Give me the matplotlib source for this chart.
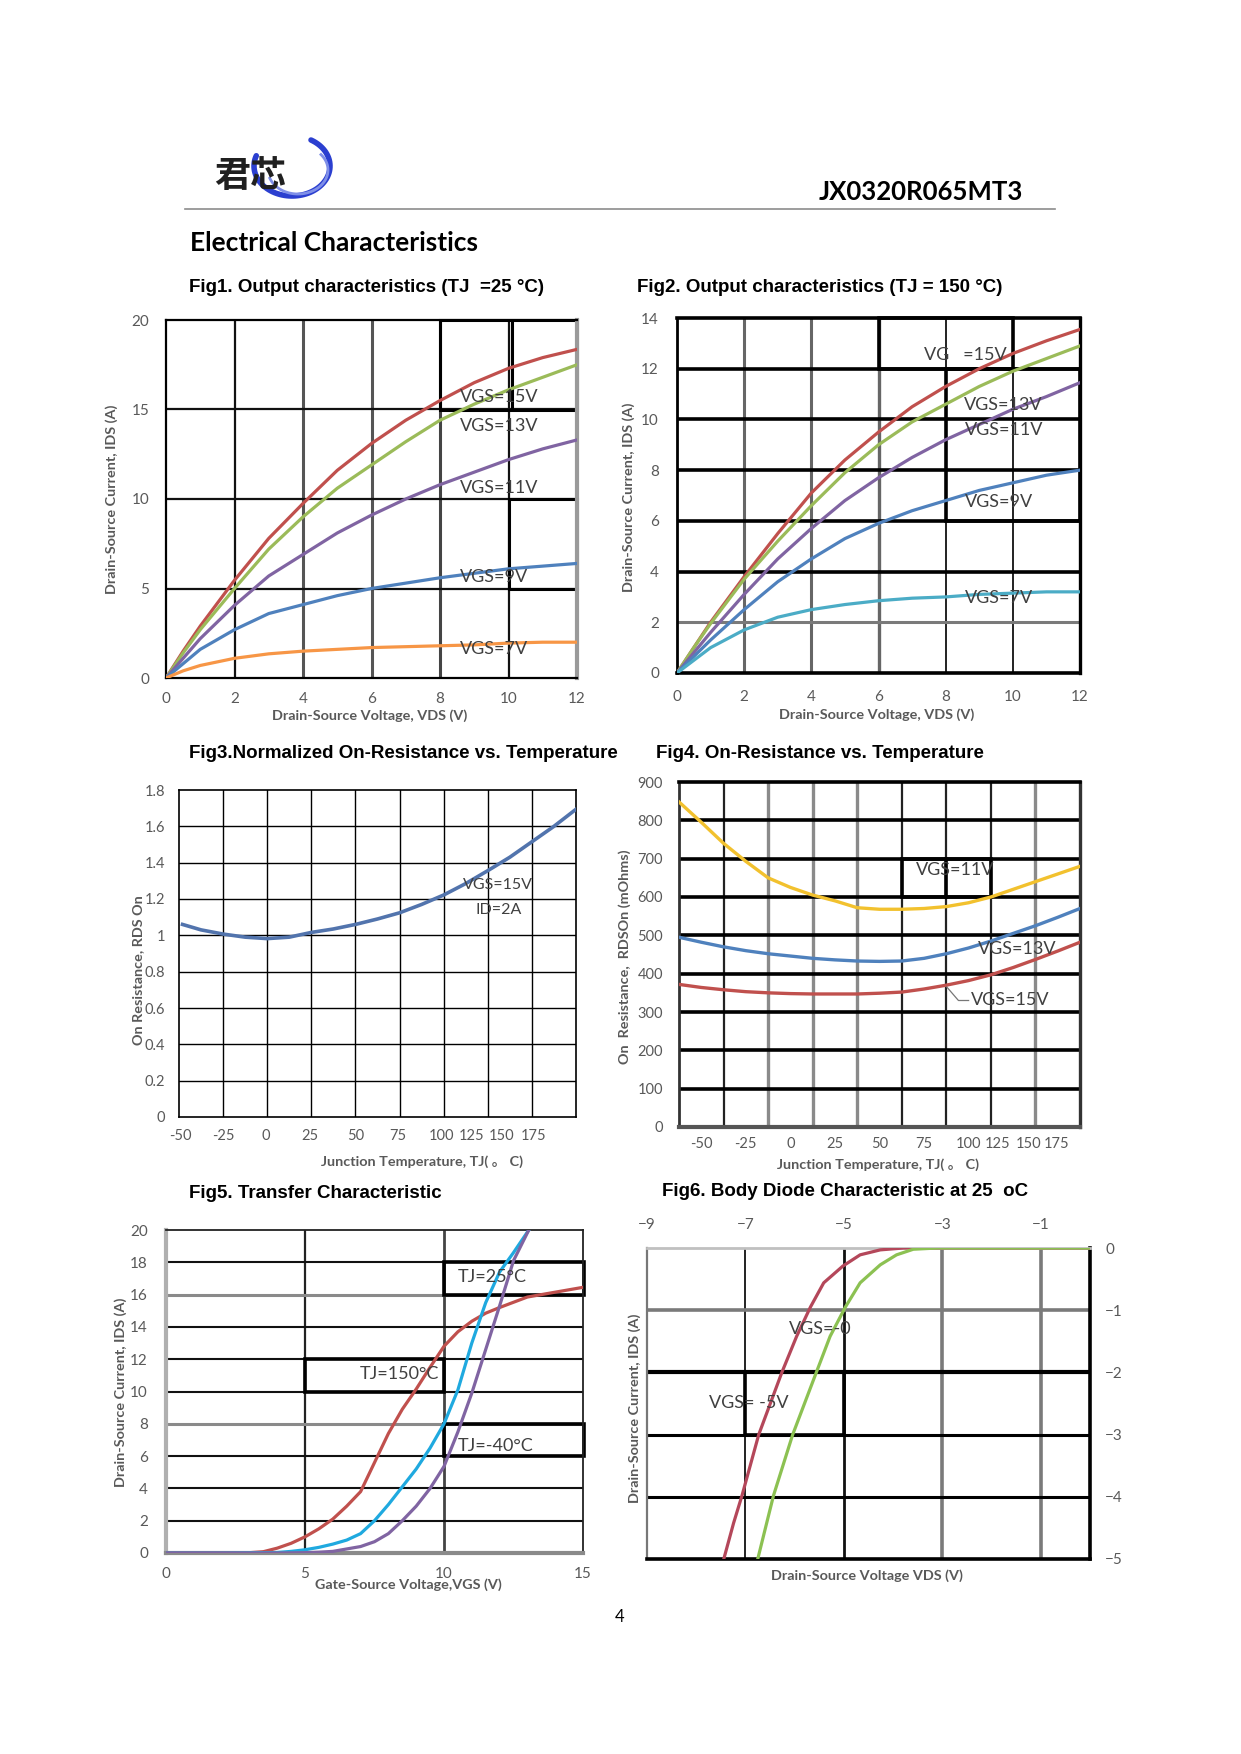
import numpy as np
import matplotlib
matplotlib.use("Agg")
import matplotlib.pyplot as plt
from matplotlib.patches import Rectangle
from matplotlib import font_manager as fm

# ---------------- data ----------------
# Fig1 output characteristics Tj=25C
f1_vds = [0, 0.5, 1, 2, 3, 4, 5, 6, 7, 8, 9, 10, 11, 12]
f1_vgs15 = [0, 1.5, 2.9, 5.46, 7.8, 9.75, 11.6, 13.1, 14.4, 15.5, 16.5, 17.3, 17.9, 18.36]
f1_vgs13 = [0, 1.4, 2.7, 5.0, 7.2, 9.0, 10.6, 11.9, 13.2, 14.4, 15.3, 16.1, 16.8, 17.5]
f1_vgs11 = [0, 1.1, 2.2, 4.06, 5.7, 6.9, 8.1, 9.1, 10.0, 10.8, 11.5, 12.2, 12.8, 13.3]
f1_vgs9 = [0, 0.8, 1.6, 2.7, 3.6, 4.1, 4.6, 5.0, 5.3, 5.6, 5.85, 6.1, 6.25, 6.4]
f1_vgs7 = [0, 0.4, 0.7, 1.1, 1.35, 1.5, 1.6, 1.7, 1.75, 1.8, 1.85, 1.95, 2.0, 2.0]

# Fig2 output characteristics Tj=150C
f2_vds = [0, 0.5, 1, 2, 3, 4, 5, 6, 7, 8, 9, 10, 11, 12]
f2_vgs15 = [0, 1.0, 2.0, 3.8, 5.5, 7.1, 8.4, 9.5, 10.5, 11.3, 12.0, 12.6, 13.1, 13.55]
f2_vgs13 = [0, 1.0, 1.95, 3.7, 5.2, 6.6, 7.9, 9.0, 9.9, 10.6, 11.3, 11.9, 12.4, 12.9]
f2_vgs11 = [0, 0.8, 1.6, 3.1, 4.5, 5.7, 6.8, 7.7, 8.5, 9.2, 9.8, 10.4, 10.9, 11.45]
f2_vgs9 = [0, 0.65, 1.3, 2.5, 3.6, 4.5, 5.3, 5.9, 6.4, 6.8, 7.2, 7.5, 7.8, 8.0]
f2_vgs7 = [0, 0.5, 1.0, 1.7, 2.2, 2.5, 2.7, 2.85, 2.95, 3.0, 3.1, 3.15, 3.2, 3.2]

# Fig3 normalized on-resistance
f3_temp = [-48, -37.5, -25, -12.5, 0, 12.5, 25, 37.5, 50, 62.5, 75, 87.5, 100,
           112.5, 125, 137.5, 150, 162.5, 175]
f3_rnorm = [1.06, 1.03, 1.007, 0.99, 0.982, 0.99, 1.016, 1.035, 1.06, 1.09, 1.124,
            1.17, 1.222, 1.285, 1.356, 1.43, 1.515, 1.60, 1.694]
f3_xticklabels = ["-50", "-25", "0", "25", "50", "75", "100", "125", "150", "175"]

# Fig4 on-resistance vs temperature (mOhm)
f4_temp = [-62.5, -50, -37.5, -25, -12.5, 0, 12.5, 25, 37.5, 50, 62.5, 75, 87.5,
           100, 112.5, 125, 137.5, 150, 162.5]
f4_vgs11 = [848, 795, 740, 693, 650, 625, 605, 590, 572, 568, 568, 570, 575, 585,
            600, 620, 640, 660, 680]
f4_vgs13 = [495, 482, 470, 460, 452, 446, 440, 436, 433, 432, 433, 440, 452, 467,
            485, 505, 525, 547, 570]
f4_vgs15 = [372, 364, 358, 353, 350, 348, 347, 347, 347, 349, 352, 360, 370, 382,
            397, 416, 437, 459, 482]
f4_xticklabels = ["-50", "-25", "0", "25", "50", "75", "100", "125", "150", "175"]

# Fig5 transfer characteristic
f5_vgs_150 = [0, 2, 3, 3.5, 4, 4.5, 5, 5.5, 6, 6.5, 7, 7.5, 8, 8.5, 9, 9.5, 10, 10.5,
              11, 11.5, 12, 13, 14, 15]
f5_ids_150 = [0, 0, 0.02, 0.08, 0.3, 0.6, 1.0, 1.5, 2.1, 2.9, 3.8, 5.6, 7.4, 8.9,
              10.15, 11.5, 12.8, 13.7, 14.35, 14.85, 15.2, 15.85, 16.15, 16.45]
f5_vgs_25 = [0, 2, 4, 4.5, 5, 5.5, 6, 6.5, 7, 7.5, 8, 8.5, 9, 9.5, 10, 10.5, 11,
             11.5, 12, 12.5, 13.05]
f5_ids_25 = [0, 0, 0.03, 0.1, 0.2, 0.35, 0.55, 0.8, 1.2, 2.0, 3.0, 4.1, 5.2, 6.5,
             8.0, 10.1, 13.0, 15.5, 17.4, 18.6, 20]
f5_vgs_m40 = [0, 2, 4, 5, 5.5, 6, 6.5, 7, 7.5, 8, 8.5, 9, 9.5, 10, 10.5, 11, 11.5,
              12, 12.5, 13.05]
f5_ids_m40 = [0, 0, 0, 0.02, 0.05, 0.1, 0.25, 0.4, 0.7, 1.2, 2.0, 2.9, 4.0, 5.36,
              7.5, 9.9, 12.6, 15.3, 18.1, 20]

# Fig6 body diode
f6_vds_m5 = [-7.44, -7.24, -7.07, -6.73, -6.26, -5.96, -5.68, -5.41, -5.02, -4.67,
             -4.26, -3.79, 0]
f6_ids_m5 = [-5, -4.42, -3.98, -3.0, -2.0, -1.42, -0.95, -0.56, -0.29, -0.11, -0.03,
             0, 0]
f6_vds_0 = [-6.75, -6.43, -6.04, -5.56, -5.28, -4.97, -4.67, -4.26, -3.93, -3.59,
            -3.1, 0]
f6_ids_0 = [-5, -3.98, -3.0, -2.0, -1.42, -0.95, -0.56, -0.27, -0.11, -0.02, 0, 0]

# ---------------- fonts ----------------
def has_font(name):
    try:
        fm.findfont(fm.FontProperties(family=name), fallback_to_default=False)
        return True
    except Exception:
        return False

SANS = "Lato" if has_font("Lato") else "DejaVu Sans"
TFONT, TSIZE = "Liberation Sans", 13.5
CJK = "Noto Sans CJK SC"
plt.rcParams["font.family"] = [SANS, "DejaVu Sans"]

W, H = 1241, 1754
fig = plt.figure(figsize=(W / 100, H / 100), dpi=100)
GRAY = "#595959"

RED = "#c0504d"
GREEN = "#9bbb59"
PURPLE = "#8064a2"
BLUE = "#4f81bd"
ORANGE = "#f79646"
TEAL = "#4bacc6"


def T(x, y, s, **kw):
    return fig.text(x / W, 1 - y / H, s, **kw)


def add_ax(l, t, r, b):
    return fig.add_axes([l / W, 1 - b / H, (r - l) / W, (b - t) / H])


def vline(ax, x, c, lw):
    ax.axvline(x, color=c, lw=lw, zorder=1)


def hline(ax, y, c, lw):
    ax.axhline(y, color=c, lw=lw, zorder=1)


def rect(ax, x0, y0, x1, y1, lw=2.2, c="black"):
    ax.add_patch(Rectangle((x0, y0), x1 - x0, y1 - y0, fill=False, ec=c, lw=lw,
                           zorder=2, clip_on=False))


def spines(ax, top, bottom, left, right):
    for k, v in (("top", top), ("bottom", bottom), ("left", left), ("right", right)):
        ax.spines[k].set_color(v[0])
        ax.spines[k].set_linewidth(v[1])


def ticks(ax, xpad, ypad, size=11):
    ax.tick_params(axis="x", length=0, pad=xpad, labelsize=size, labelcolor=GRAY)
    ax.tick_params(axis="y", length=0, pad=ypad, labelsize=size, labelcolor=GRAY)


ann = dict(color="#404040", fontsize=13, ha="left", va="center", zorder=5)
labkw = dict(color=GRAY, fontsize=10.4, fontweight="bold", ha="center", va="center")
titkw = dict(family=[TFONT, "DejaVu Sans"], fontweight="bold", fontsize=TSIZE,
             color="black", ha="left", va="center")

# ---------------- header ----------------
ov = fig.add_axes([0, 0, 1, 1], zorder=-5)
ov.set_xlim(0, W)
ov.set_ylim(H, 0)
ov.axis("off")
ov.plot([185, 1055], [209, 209], color="#8c8c8c", lw=1.2)
ang = np.radians(np.linspace(160, 420, 80))
ov.plot(292 + 38 * np.cos(ang), 166 - 30 * np.sin(ang), color="#2b3fd0", lw=4,
        solid_capstyle="round")
ang2 = np.radians(np.linspace(200, 400, 60))
ov.plot(298 + 30 * np.cos(ang2), 170 - 24 * np.sin(ang2), color="#7f8fe8", lw=2)
T(214, 176, "君芯", family=[CJK, "DejaVu Sans"], fontsize=26, fontweight="bold",
  color="#202020", va="center", ha="left")
T(1023, 192, "JX0320R065MT3", fontsize=18.5, fontweight="bold", color="black",
  ha="right", va="center")
T(190, 243, "Electrical Characteristics", fontsize=19, fontweight="bold",
  color="black", ha="left", va="center")
T(620, 1617, "4", fontsize=12, color="black", ha="center", va="center")

# ---------------- Fig1 ----------------
T(189, 288, "Fig1. Output characteristics (TJ  =25 °C)", **titkw)
ax = add_ax(166, 320, 577, 678)
ax.set_xlim(0, 12)
ax.set_ylim(0, 20)
ax.set_xticks(range(0, 13, 2))
ax.set_yticks(range(0, 21, 5))
for x, c, lw in ((2, "#111", 1.6), (4, "#555", 2.2), (6, "#555", 2.2), (8, "#444", 2.2),
                 (10, "#111", 1.6)):
    vline(ax, x, c, lw)
for y in (5, 10, 15):
    hline(ax, y, "#111", 1.6)
rect(ax, 8, 15, 12, 20)
ax.plot([10.1, 10.1], [15, 20], color="black", lw=2.2, zorder=2)
rect(ax, 10, 5, 12, 10)
spines(ax, ("black", 1.6), ("black", 1.6), ("black", 1.6), ("#9a9a9a", 3))
ticks(ax, 10, 12)
for ys, c in ((f1_vgs15, RED), (f1_vgs13, GREEN), (f1_vgs11, PURPLE),
              (f1_vgs9, BLUE), (f1_vgs7, ORANGE)):
    ax.plot(f1_vds, ys, color=c, lw=2.3, zorder=4)
for y, s in ((15.7, "VGS=15V"), (14.1, "VGS=13V"), (10.6, "VGS=11V"),
             (5.65, "VGS=9V"), (1.64, "VGS=7V")):
    ax.text(8.57, y, s, **ann)
T(112, 499, "Drain-Source Current, IDS (A)", rotation=90, **labkw)
T(370, 716, "Drain-Source Voltage, VDS (V)", **labkw)

# ---------------- Fig2 ----------------
T(637, 288, "Fig2. Output characteristics (TJ = 150 °C)", **titkw)
ax = add_ax(677, 318, 1080, 673)
ax.set_xlim(0, 12)
ax.set_ylim(0, 14)
ax.set_xticks(range(0, 13, 2))
ax.set_yticks(range(0, 15, 2))
for x, c, lw in ((2, "#666", 2.2), (4, "#666", 2.2), (6, "#666", 2.4), (8, "#111", 1.3),
                 (10, "#111", 1.3)):
    vline(ax, x, c, lw)
hline(ax, 2, "#7a7a7a", 2.2)
for y in (4, 6, 8, 10, 12):
    hline(ax, y, "black", 2.6)
rect(ax, 6, 12, 10, 14, lw=2.6)
rect(ax, 8, 6, 12, 12, lw=2.6)
spines(ax, ("black", 2.6), ("black", 2.6), ("black", 2), ("black", 2.4))
ticks(ax, 12, 13)
for ys, c in ((f2_vgs15, RED), (f2_vgs13, GREEN), (f2_vgs11, PURPLE),
              (f2_vgs9, BLUE), (f2_vgs7, TEAL)):
    ax.plot(f2_vds, ys, color=c, lw=2.3, zorder=4)
for x, y, s in ((7.34, 12.55, "VG   =15V"), (8.55, 10.55, "VGS=13V"), (8.58, 9.6, "VGS=11V"),
                (8.58, 6.76, "VGS=9V"), (8.58, 2.94, "VGS=7V")):
    ax.text(x, y, s, **ann)
T(629, 497, "Drain-Source Current, IDS (A)", rotation=90, **labkw)
T(877, 715, "Drain-Source Voltage, VDS (V)", **labkw)

# ---------------- Fig3 ----------------
T(189, 753, "Fig3.Normalized On-Resistance vs. Temperature", **titkw)
ax = add_ax(179, 790, 576, 1117)
ax.set_xlim(-50, 175)
ax.set_ylim(0, 1.8)
for x in np.arange(-25, 175, 25):
    vline(ax, x, "black", 1.0)
for y in np.arange(0.2, 1.8, 0.2):
    hline(ax, y, "black", 1.0)
ax.set_xticks([-49, -25, -1, 24, 50, 74, 99, 116, 133, 151])
ax.set_xticklabels(f3_xticklabels)
ax.set_yticks(np.arange(0, 1.81, 0.2))
ax.set_yticklabels(["0", "0.2", "0.4", "0.6", "0.8", "1", "1.2", "1.4", "1.6", "1.8"])
spines(ax, ("black", 1.2), ("black", 1.2), ("black", 1.2), ("black", 1.2))
ticks(ax, 9, 10, size=10.5)
ax.plot(f3_temp, f3_rnorm, color="#5274ad", lw=2.6, zorder=4)
ax.text(111, 1.277, "VGS=15V", **dict(ann, fontsize=11.5))
ax.text(118, 1.14, "ID=2A", **dict(ann, fontsize=11.5))
T(138, 970, "On Resistance, RDS On", rotation=90, **labkw)
T(422, 1162, "Junction Temperature, TJ( 。 C)", family=[SANS, CJK, "DejaVu Sans"],
  **labkw)

# ---------------- Fig4 ----------------
T(656, 753, "Fig4. On-Resistance vs. Temperature", **titkw)
ax = add_ax(679, 782, 1080, 1127)
ax.set_xlim(-62.5, 162.5)
ax.set_ylim(0, 900)
for i, x in enumerate(np.arange(-37.5, 162.5, 25)):
    c, lw = ("#8a8a8a", 2.4) if i in (1, 2, 3, 7) else ("#222", 1.6)
    vline(ax, x, c, lw)
for y in range(100, 900, 100):
    hline(ax, y, "black", 2.6)
rect(ax, 62.5, 600, 112.5, 700, lw=2.6)
ax.plot([87.5, 87.5], [600, 700], color="black", lw=2.6, zorder=2)
ax.set_xticks([-50, -25, 0, 25, 50, 75, 100, 116, 133.5, 149.4])
ax.set_xticklabels(f4_xticklabels)
ax.set_yticks(range(0, 901, 100))
spines(ax, ("black", 2.6), ("#555", 3), ("#333", 2), ("#333", 2.4))
ticks(ax, 7, 11.5, size=10.5)
ax.plot(f4_temp, f4_vgs11, color="#f2c12e", lw=2.4, zorder=4)
ax.plot(f4_temp, f4_vgs13, color=BLUE, lw=2.4, zorder=4)
ax.plot(f4_temp, f4_vgs15, color=RED, lw=2.4, zorder=4)
ax.plot([87.8, 94.3, 100], [365, 330, 330], color="#777", lw=0.9, zorder=4)
ax.text(70.6, 670, "VGS=11V", **ann)
ax.text(105.5, 465, "VGS=13V", **ann)
ax.text(101.5, 332, "VGS=15V", **ann)
T(625, 957, "On  Resistance,  RDSOn (mOhms)", rotation=90, **labkw)
T(878, 1165, "Junction Temperature, TJ( 。 C)", family=[SANS, CJK, "DejaVu Sans"],
  **labkw)

# ---------------- Fig5 ----------------
T(189, 1194, "Fig5. Transfer Characteristic", **titkw)
ax = add_ax(166, 1230, 583, 1553)
ax.set_xlim(0, 15)
ax.set_ylim(0, 20)
ax.set_xticks([0, 5, 10, 15])
ax.set_yticks(range(0, 21, 2))
vline(ax, 5, "#222", 1.6)
vline(ax, 10, "#444", 2.0)
for y in range(2, 20, 2):
    c, lw = ("#8a8a8a", 2.2) if y in (8, 16) else ("#111", 1.5)
    hline(ax, y, c, lw)
rect(ax, 10, 16, 15.05, 18, lw=2.6)
rect(ax, 5, 10, 10, 12, lw=2.6)
rect(ax, 10, 6, 15.05, 8, lw=2.6)
spines(ax, ("#222", 1.3), ("#8a8a8a", 3), ("#b0b0b0", 3), ("#222", 1.3))
ticks(ax, 10, 13)
ax.plot(f5_vgs_150, f5_ids_150, color=RED, lw=2.3, zorder=4)
ax.plot(f5_vgs_25, f5_ids_25, color="#1fa9df", lw=2.3, zorder=4)
ax.plot(f5_vgs_m40, f5_ids_m40, color=PURPLE, lw=2.3, zorder=4)
ax.text(10.5, 17.07, "TJ=25°C", **ann)
ax.text(6.97, 11.1, "TJ=150°C", **ann)
ax.text(10.5, 6.64, "TJ=-40°C", **ann)
T(121, 1392, "Drain-Source Current, IDS (A)", rotation=90, **labkw)
T(408, 1585, "Gate-Source Voltage,VGS (V)", **labkw)

# ---------------- Fig6 ----------------
T(662, 1192, "Fig6. Body Diode Characteristic at 25  oC", **titkw)
ax = add_ax(647, 1248, 1090, 1559)
ax.set_xlim(-9, 0)
ax.set_ylim(-5, 0)
ax.xaxis.tick_top()
ax.yaxis.tick_right()
ax.set_xticks([-9, -7, -5, -3, -1])
ax.set_yticks([0, -1, -2, -3, -4, -5])
vline(ax, -7, "#111", 1.3)
vline(ax, -5, "#111", 2.0)
vline(ax, -3, "#7a7a7a", 2.6)
vline(ax, -1, "#7a7a7a", 2.6)
hline(ax, -1, "#7a7a7a", 2.6)
hline(ax, -2, "black", 3.0)
hline(ax, -3, "black", 2.2)
hline(ax, -4, "black", 2.2)
rect(ax, -7, -3, -5, -2, lw=2.6)
spines(ax, ("#c0c0c0", 2), ("black", 2.6), ("#777", 1.6), ("black", 2.6))
ticks(ax, 11.5, 11)
ax.plot(f6_vds_m5, f6_ids_m5, color="#b4475a", lw=2.3, zorder=4)
ax.plot(f6_vds_0, f6_ids_0, color="#8cc152", lw=2.3, zorder=4)
ax.text(-6.12, -1.31, "VGS=-0", **ann)
ax.text(-7.75, -2.49, "VGS= -5V", **ann)
T(635, 1408, "Drain-Source Current, IDS (A)", rotation=90, **labkw)
T(867, 1576, "Drain-Source Voltage VDS (V)", **labkw)

fig.savefig("out.png", dpi=100, facecolor="white")
